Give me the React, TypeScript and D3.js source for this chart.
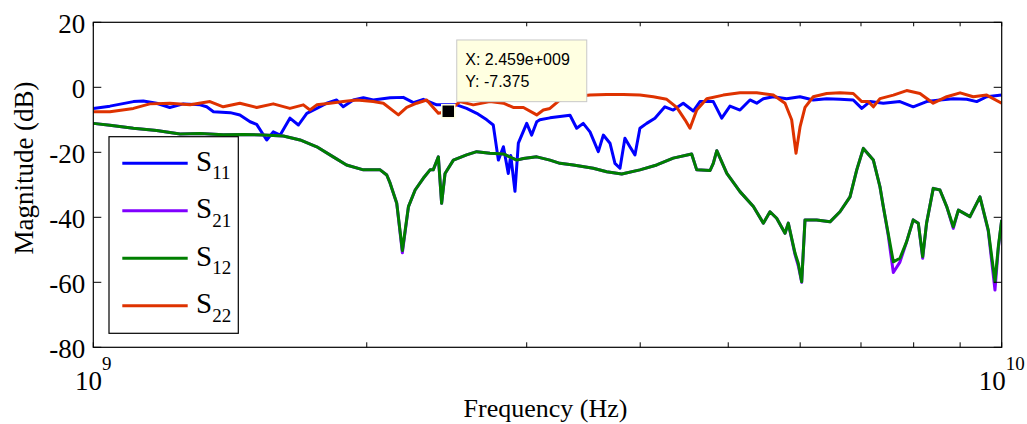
import React, { useEffect, useRef } from 'react';
import * as d3 from 'd3';

// frequency in GHz, magnitude in dB
const s11Freq = [1.000, 1.043, 1.107, 1.135, 1.174, 1.214, 1.256, 1.311, 1.333, 1.356, 1.415, 1.450, 1.488, 1.513, 1.552, 1.578, 1.606, 1.646, 1.682, 1.718, 1.762, 1.807, 1.853, 1.884, 1.933, 1.983, 2.033, 2.122, 2.194, 2.251, 2.308, 2.388, 2.512, 2.576, 2.643, 2.711, 2.756, 2.792, 2.828, 2.863, 2.881, 2.912, 2.937, 3.000, 3.038, 3.077, 3.102, 3.182, 3.264, 3.348, 3.405, 3.462, 3.522, 3.597, 3.643, 3.705, 3.752, 3.800, 3.848, 3.897, 3.947, 3.997, 4.066, 4.152, 4.258, 4.349, 4.461, 4.576, 4.654, 4.814, 4.918, 5.022, 5.151, 5.283, 5.374, 5.465, 5.605, 5.798, 5.998, 6.202, 6.417, 6.637, 6.864, 7.014, 7.161, 7.407, 7.727, 7.991, 8.266, 8.551, 8.845, 9.152, 9.386, 9.627, 10.0];
const s11Db = [-6.5, -5.8, -4.4, -4.2, -4.9, -6.2, -5.1, -5.4, -6.0, -7.5, -7.8, -8.5, -10.6, -11.4, -16.2, -13.7, -14.7, -9.5, -11.6, -8.0, -6.5, -4.9, -3.9, -6.0, -3.9, -3.2, -3.9, -3.2, -3.1, -4.7, -3.7, -5.4, -5.4, -6.5, -8.0, -10.0, -11.6, -22.4, -18.3, -26.5, -21.0, -32.0, -17.2, -11.1, -14.7, -10.6, -10.0, -9.4, -9.0, -8.6, -12.6, -11.1, -13.7, -19.8, -14.7, -17.2, -23.4, -24.9, -15.7, -18.3, -20.8, -12.6, -11.1, -9.5, -6.0, -7.0, -4.9, -7.3, -4.4, -4.4, -9.5, -5.8, -7.0, -3.9, -4.9, -3.5, -2.9, -3.5, -2.9, -3.9, -3.5, -3.7, -3.9, -6.5, -4.4, -4.9, -4.4, -6.0, -4.4, -3.9, -3.5, -3.7, -4.4, -2.9, -2.4];

const s22Freq = [1.000, 1.043, 1.107, 1.154, 1.214, 1.278, 1.344, 1.390, 1.450, 1.513, 1.578, 1.646, 1.703, 1.732, 1.762, 1.822, 1.884, 1.950, 2.033, 2.086, 2.167, 2.213, 2.270, 2.328, 2.367, 2.398, 2.459, 2.533, 2.620, 2.733, 2.828, 2.899, 2.975, 3.077, 3.129, 3.182, 3.264, 3.376, 3.522, 3.674, 3.832, 3.997, 4.135, 4.278, 4.388, 4.481, 4.538, 4.616, 4.735, 4.937, 5.151, 5.374, 5.605, 5.774, 5.872, 5.937, 5.998, 6.074, 6.202, 6.417, 6.637, 6.864, 7.014, 7.132, 7.223, 7.345, 7.598, 7.859, 8.129, 8.407, 8.699, 8.999, 9.304, 9.627, 10.0];
const s22Db = [-7.5, -7.5, -6.5, -5.1, -4.9, -5.4, -4.4, -6.0, -4.9, -6.2, -5.1, -6.5, -5.4, -7.0, -5.4, -4.9, -4.4, -3.9, -4.4, -4.9, -8.5, -6.2, -4.9, -3.9, -6.2, -8.0, -7.375, -4.4, -5.4, -4.4, -4.9, -6.2, -6.2, -8.5, -7.0, -6.5, -3.9, -2.9, -2.4, -2.2, -2.2, -2.4, -2.9, -3.7, -6.2, -10.0, -12.6, -7.0, -3.5, -2.4, -1.7, -1.7, -2.4, -4.9, -10.0, -20.3, -12.2, -6.2, -2.9, -1.9, -1.7, -1.9, -4.4, -4.4, -6.0, -3.5, -2.4, -1.0, -1.9, -4.9, -2.9, -1.7, -2.9, -2.4, -4.9];

// S21 and S12 share the frequency points
const sxFreq = [1.000, 1.043, 1.107, 1.174, 1.246, 1.311, 1.390, 1.463, 1.538, 1.619, 1.689, 1.762, 1.837, 1.900, 1.983, 2.069, 2.104, 2.122, 2.158, 2.189, 2.223, 2.261, 2.308, 2.348, 2.367, 2.398, 2.418, 2.439, 2.491, 2.576, 2.643, 2.733, 2.828, 2.925, 2.975, 3.077, 3.182, 3.264, 3.376, 3.551, 3.674, 3.817, 3.997, 4.171, 4.349, 4.557, 4.616, 4.775, 4.814, 4.857, 4.982, 5.151, 5.329, 5.465, 5.558, 5.653, 5.774, 5.822, 5.922, 5.972, 6.023, 6.074, 6.256, 6.471, 6.637, 6.808, 6.925, 7.042, 7.223, 7.345, 7.407, 7.500, 7.598, 7.726, 7.859, 7.991, 8.094, 8.185, 8.266, 8.407, 8.551, 8.699, 8.845, 8.960, 9.227, 9.464, 9.665, 9.831, 9.915, 10.0];
const s12Db = [-11.1, -11.7, -12.6, -13.3, -14.4, -14.2, -14.6, -14.5, -14.7, -15.0, -16.2, -18.3, -21.4, -23.9, -25.4, -25.4, -27.0, -29.5, -35.7, -50.2, -36.7, -31.6, -28.0, -25.4, -25.4, -21.4, -35.7, -26.5, -22.4, -20.8, -19.8, -20.3, -20.5, -22.4, -21.9, -21.4, -22.4, -23.4, -23.9, -24.9, -26.0, -26.7, -25.4, -23.9, -21.8, -20.5, -25.4, -25.6, -23.4, -19.5, -26.5, -32.1, -36.7, -41.8, -38.3, -40.3, -44.9, -41.8, -51.0, -54.2, -59.8, -40.8, -40.8, -41.4, -38.3, -33.7, -25.4, -18.8, -22.4, -30.6, -36.7, -45.0, -53.7, -52.6, -47.5, -40.8, -41.8, -52.1, -41.8, -31.1, -31.6, -36.7, -42.9, -37.8, -39.8, -33.7, -43.9, -59.8, -49.0, -40.8];
const s21Db = [-11.1, -11.7, -12.6, -13.3, -14.4, -14.2, -14.6, -14.5, -14.7, -15.0, -16.2, -18.3, -21.4, -23.9, -25.4, -25.4, -27.0, -29.5, -35.7, -50.9, -36.7, -31.6, -28.0, -25.4, -25.4, -21.4, -35.7, -26.5, -22.4, -20.8, -19.8, -20.3, -20.5, -22.4, -21.9, -21.4, -22.4, -23.4, -23.9, -24.9, -26.0, -26.7, -25.4, -23.9, -21.8, -20.5, -25.4, -25.6, -23.4, -19.5, -26.5, -32.1, -36.7, -41.8, -38.3, -40.3, -44.9, -41.8, -51.5, -55.0, -60.0, -40.8, -40.8, -41.4, -38.3, -33.7, -25.4, -18.8, -22.4, -30.6, -36.7, -45.5, -57.0, -53.8, -47.5, -40.8, -41.8, -52.6, -41.8, -31.1, -31.6, -36.7, -43.4, -37.8, -39.8, -33.7, -44.2, -62.4, -49.5, -40.8];

const seriesNames = ['11', '21', '12', '22'];
const seriesColors = ['#0000FF', '#8000FF', '#007F00', '#DE3200'];

const yTicks = [-80, -60, -40, -20, 0, 20];

// data cursor
const tipFreq = 2.459;
const tipDb = -7.375;

const App = () => {
  const ref = useRef<SVGSVGElement>(null);

  useEffect(() => {
    const svg = d3.select(ref.current);
    svg.selectAll('*').remove();

    const left = 93.3, right = 1001.7, top = 22.3, bottom = 347.3;
    const serif = 'Liberation Serif, Times New Roman, serif';

    const x = d3.scaleLog().domain([1, 10]).range([left, right]);
    const y = d3.scaleLinear().domain([-80, 20]).range([bottom, top]);

    const series = [
      { f: s11Freq, v: s11Db },
      { f: sxFreq, v: s21Db },
      { f: sxFreq, v: s12Db },
      { f: s22Freq, v: s22Db },
    ];

    const line = d3.line<[number, number]>()
      .x(d => x(d[0]))
      .y(d => y(d[1]));

    const defs = svg.append('defs');
    defs.append('clipPath').attr('id', 'plotClip')
      .append('rect')
      .attr('x', left).attr('y', top)
      .attr('width', right - left).attr('height', bottom - top);

    const plot = svg.append('g').attr('clip-path', 'url(#plotClip)');
    series.forEach((s, i) => {
      plot.append('path')
        .datum(s.f.map((f, j) => [f, s.v[j]] as [number, number]))
        .attr('fill', 'none')
        .attr('stroke', seriesColors[i])
        .attr('stroke-width', 3)
        .attr('stroke-linejoin', 'round')
        .attr('d', line);
    });

    // axes box and ticks
    const axes = svg.append('g');
    axes.append('rect')
      .attr('x', left).attr('y', top)
      .attr('width', right - left).attr('height', bottom - top)
      .attr('fill', 'none').attr('stroke', '#000').attr('stroke-width', 1.2);

    x.ticks().forEach(t => {
      axes.append('line')
        .attr('x1', x(t)).attr('x2', x(t))
        .attr('y1', bottom).attr('y2', bottom - 5)
        .attr('stroke', '#000');
      axes.append('line')
        .attr('x1', x(t)).attr('x2', x(t))
        .attr('y1', top).attr('y2', top + 4)
        .attr('stroke', '#000');
    });

    yTicks.forEach(t => {
      axes.append('line')
        .attr('x1', left).attr('x2', left + 8)
        .attr('y1', y(t)).attr('y2', y(t))
        .attr('stroke', '#000');
      axes.append('line')
        .attr('x1', right).attr('x2', right - 8)
        .attr('y1', y(t)).attr('y2', y(t))
        .attr('stroke', '#000');
      axes.append('text')
        .attr('x', left - 8)
        .attr('y', y(t) + 11)
        .attr('text-anchor', 'end')
        .attr('font-family', serif)
        .attr('font-size', 27)
        .text(String(t));
    });

    // 10^9 and 10^10 labels
    [[1, '9'], [10, '10']].forEach(([t, e]) => {
      const txt = axes.append('text')
        .attr('x', x(t as number))
        .attr('y', 390)
        .attr('text-anchor', 'middle')
        .attr('font-family', serif)
        .attr('font-size', 27);
      txt.append('tspan').text('10');
      txt.append('tspan').attr('dy', -20).attr('font-size', 19).text(e as string);
    });

    svg.append('text')
      .attr('x', (left + right) / 2 - 2)
      .attr('y', 417)
      .attr('text-anchor', 'middle')
      .attr('font-family', serif)
      .attr('font-size', 26)
      .text('Frequency (Hz)');

    svg.append('text')
      .attr('transform', 'translate(33,168) rotate(-90)')
      .attr('text-anchor', 'middle')
      .attr('font-family', serif)
      .attr('font-size', 27)
      .text('Magnitude (dB)');

    // legend
    const lg = svg.append('g');
    lg.append('rect')
      .attr('x', 109).attr('y', 136.7)
      .attr('width', 129.3).attr('height', 196.6)
      .attr('fill', '#fff').attr('stroke', '#000').attr('stroke-width', 1.2);
    seriesNames.forEach((name, i) => {
      const ly = 163.3 + i * 47.5;
      lg.append('line')
        .attr('x1', 122.3).attr('x2', 187.7)
        .attr('y1', ly).attr('y2', ly)
        .attr('stroke', seriesColors[i]).attr('stroke-width', 3);
      const t = lg.append('text')
        .attr('x', 196)
        .attr('y', ly + 7.3)
        .attr('font-family', serif)
        .attr('font-size', 29);
      t.append('tspan').text('S');
      t.append('tspan').attr('dy', 8.4).attr('font-size', 19).text(name);
    });

    // data tip
    const mx = x(tipFreq), my = y(tipDb);
    const tip = svg.append('g');
    tip.append('rect')
      .attr('x', mx + 8.5).attr('y', my - 71.3)
      .attr('width', 130).attr('height', 61.7)
      .attr('fill', '#FFFFE1').attr('stroke', '#C8C8C8').attr('stroke-width', 1);
    tip.append('text')
      .attr('x', mx + 17).attr('y', my - 46.3)
      .attr('font-family', 'Liberation Sans, Arial, sans-serif')
      .attr('font-size', 16)
      .text(`X: ${tipFreq}e+009`);
    tip.append('text')
      .attr('x', mx + 17).attr('y', my - 24.3)
      .attr('font-family', 'Liberation Sans, Arial, sans-serif')
      .attr('font-size', 16)
      .text(`Y: ${tipDb}`);
    tip.append('rect')
      .attr('x', mx - 6.5).attr('y', my - 6.5)
      .attr('width', 13).attr('height', 13)
      .attr('fill', '#000').attr('stroke', '#FFFFE1').attr('stroke-width', 1.5);
  }, []);

  return (
    <svg
      ref={ref}
      width={1027}
      height={424}
      style={{ position: 'absolute', left: 0, top: 0, background: '#fff' }}
    />
  );
};

export default App;
